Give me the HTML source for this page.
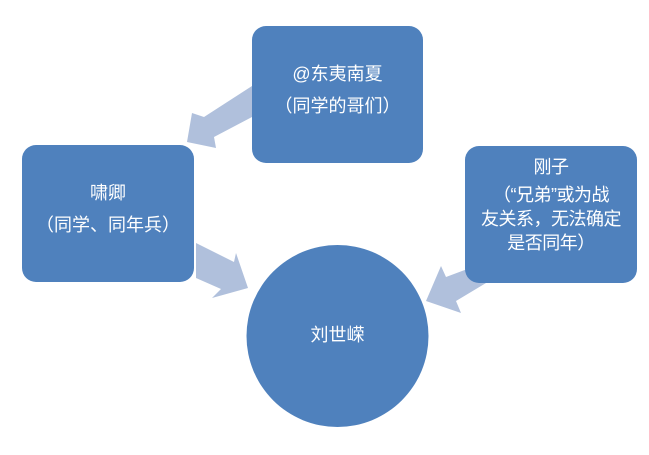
<!DOCTYPE html>
<html><head><meta charset="utf-8"><style>
body{margin:0;width:649px;height:455px;background:#fff;overflow:hidden;position:relative;font-family:"Liberation Sans","Noto Sans CJK SC",sans-serif;}
.b{position:absolute;background:#4f81bd;border-radius:14px;color:#fff;font-size:18px;text-align:center;line-height:32px;box-sizing:border-box;white-space:nowrap;}
</style></head><body>
<svg width="649" height="455" style="position:absolute;left:0;top:0">
<polygon fill="#b0c0dc" points="252,86 252,117 214,137 216,148 187,142 192,113 204,117"/>
<polygon fill="#b0c0dc" points="196,243 234,262 236,253 248,288 212,298 221,289 196,278"/>
<polygon fill="#b0c0dc" points="486,283 456,301 461,313 426,301 441,266 446,277 470,268"/>
<circle cx="337.5" cy="336" r="91" fill="#4f81bd"/>
</svg>
<div class="b" style="left:252px;top:26px;width:171px;height:137px;padding-top:32px">@东夷南夏<br>（同学的哥们）</div>
<div class="b" style="left:22px;top:145px;width:172px;height:137px;padding-top:32px">啸卿<br>（同学、同年兵）</div>
<div class="b" style="left:465px;top:146px;width:172px;height:137px;padding-top:5px;line-height:24px;letter-spacing:-0.5px"><div style="line-height:32px">刚子</div>（“兄弟”或为战<br>友关系，无法确定<br>是否同年）</div>
<div style="position:absolute;left:247px;top:321px;width:181px;text-align:center;color:#fff;font-size:18px">刘世嵘</div>
</body></html>
